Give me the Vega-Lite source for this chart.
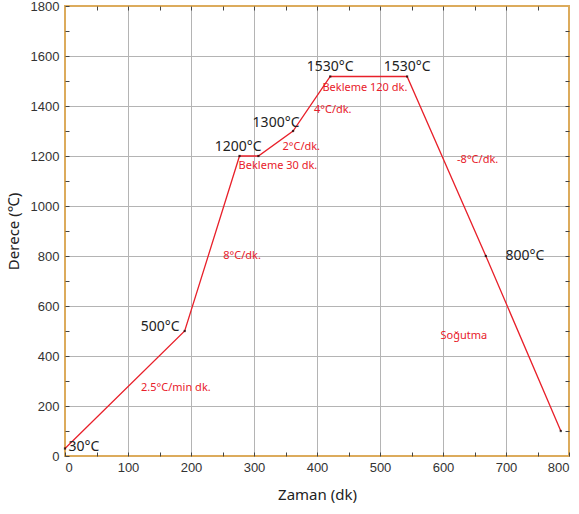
{
  "$schema": "https://vega.github.io/schema/vega-lite/v6.json",
  "width": 504,
  "height": 450,
  "autosize": {"type": "none"},
  "padding": {"left": 65, "top": 6, "right": 10, "bottom": 58},
  "background": "white",
  "datasets": {
    "curve": [
      {"t": 0, "temp": 30},
      {"t": 190, "temp": 500},
      {"t": 277, "temp": 1200},
      {"t": 307, "temp": 1200},
      {"t": 362, "temp": 1300},
      {"t": 421, "temp": 1518},
      {"t": 543, "temp": 1518},
      {"t": 668, "temp": 800},
      {"t": 787, "temp": 100}
    ],
    "blackLabels": [
      {"t": 30, "temp": 36, "label": "30°C"},
      {"t": 151, "temp": 518, "label": "500°C"},
      {"t": 275, "temp": 1235, "label": "1200°C"},
      {"t": 335, "temp": 1334, "label": "1300°C"},
      {"t": 421, "temp": 1557, "label": "1530°C"},
      {"t": 543, "temp": 1557, "label": "1530°C"},
      {"t": 730, "temp": 800, "label": "800°C"}
    ],
    "redLabels": [
      {"t": 338, "temp": 1159, "label": "Bekleme 30 dk."},
      {"t": 375, "temp": 1235, "label": "2°C/dk."},
      {"t": 425, "temp": 1386, "label": "4°C/dk."},
      {"t": 476, "temp": 1474, "label": "Bekleme 120 dk."},
      {"t": 655, "temp": 1183, "label": "-8°C/dk."},
      {"t": 281, "temp": 800, "label": "8°C/dk."},
      {"t": 633, "temp": 482, "label": "Soğutma"},
      {"t": 176, "temp": 271, "label": "2.5°C/min dk."}
    ]
  },
  "config": {
    "view": {"stroke": "#dcab5c", "strokeWidth": 2},
    "axis": {
      "domain": false,
      "labelFont": "Liberation Sans",
      "labelFontSize": 13,
      "labelColor": "#333333",
      "titleFont": "Noto Sans",
      "titleFontSize": 15,
      "titleFontWeight": "normal",
      "titleColor": "#222222",
      "gridColor": "#b4b4b4",
      "gridWidth": 1,
      "tickColor": "#444444",
      "tickSize": -4,
      "tickWidth": 1
    }
  },
  "resolve": {"axis": {"x": "independent", "y": "independent"}},
  "layer": [
    {
      "data": {"name": "curve"},
      "mark": {"type": "line", "color": "#e8202a", "strokeWidth": 1.3},
      "encoding": {
        "x": {
          "field": "t", "type": "quantitative",
          "scale": {"domain": [0, 800], "nice": false, "zero": false},
          "axis": {
            "orient": "bottom",
            "title": "Zaman (dk)",
            "values": [0, 50, 100, 150, 200, 250, 300, 350, 400, 450, 500, 550, 600, 650, 700, 750, 800],
            "labelExpr": "datum.value % 100 === 0 ? datum.label : ''",
            "gridOpacity": {"condition": {"test": "datum.value % 100 !== 0 || datum.value === 0 || datum.value === 800", "value": 0}, "value": 1},
            "labelPadding": 9,
            "titlePadding": 13
          }
        },
        "y": {
          "field": "temp", "type": "quantitative",
          "scale": {"domain": [0, 1800], "nice": false, "zero": false},
          "axis": {
            "orient": "left",
            "title": "Derece (℃)",
            "values": [0, 100, 200, 300, 400, 500, 600, 700, 800, 900, 1000, 1100, 1200, 1300, 1400, 1500, 1600, 1700, 1800],
            "labelExpr": "datum.value % 200 === 0 ? datum.label : ''",
            "format": "d",
            "gridOpacity": {"condition": {"test": "datum.value % 200 !== 0 || datum.value === 0 || datum.value === 1800", "value": 0}, "value": 1},
            "labelPadding": 10,
            "titlePadding": 9
          }
        }
      }
    },
    {
      "data": {"name": "curve"},
      "mark": {"type": "point", "filled": true, "color": "#000000", "size": 5, "shape": "square"},
      "encoding": {
        "x": {
          "field": "t", "type": "quantitative",
          "axis": {
            "orient": "top", "title": null, "labels": false, "grid": false,
            "values": [50, 100, 150, 200, 250, 300, 350, 400, 450, 500, 550, 600, 650, 700, 750]
          }
        },
        "y": {
          "field": "temp", "type": "quantitative",
          "axis": {
            "orient": "right", "title": null, "labels": false, "grid": false,
            "values": [100, 200, 300, 400, 500, 600, 700, 800, 900, 1000, 1100, 1200, 1300, 1400, 1500, 1600, 1700]
          }
        }
      }
    },
    {
      "data": {"name": "blackLabels"},
      "mark": {"type": "text", "font": "Noto Sans", "fontSize": 14, "color": "#222222", "align": "center", "baseline": "middle"},
      "encoding": {
        "x": {"field": "t", "type": "quantitative", "axis": null},
        "y": {"field": "temp", "type": "quantitative", "axis": null},
        "text": {"field": "label"}
      }
    },
    {
      "data": {"name": "redLabels"},
      "mark": {"type": "text", "font": "Noto Sans", "fontSize": 11, "color": "#e8202a", "align": "center", "baseline": "middle"},
      "encoding": {
        "x": {"field": "t", "type": "quantitative", "axis": null},
        "y": {"field": "temp", "type": "quantitative", "axis": null},
        "text": {"field": "label"}
      }
    }
  ]
}
